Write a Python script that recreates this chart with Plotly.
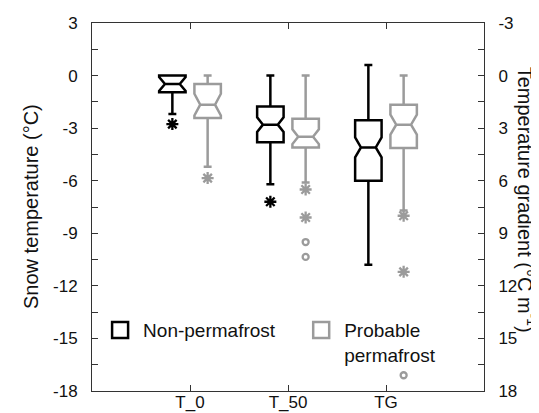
import plotly.graph_objects as go

categories = ["T_0", "T_50", "TG"]
# T_0, T_50 in °C (left axis); TG in °C m-1 (right, reversed axis)
np_lowerfence = [-2.2, -6.2, -0.6]
np_q1 = [-0.95, -3.8, 2.55]
np_median = [-0.48, -2.8, 4.1]
np_q3 = [0.0, -1.77, 6.0]
np_upperfence = [0.0, 0.0, 10.8]
np_notch = [0.4, 0.42, 0.57]

pp_lowerfence = [-5.2, -6.1, 0.0]
pp_q1 = [-2.42, -4.1, 1.66]
pp_median = [-1.66, -3.49, 2.8]
pp_q3 = [-0.48, -2.46, 4.13]
pp_upperfence = [0.0, 0.0, 7.7]
pp_notch = [0.62, 0.42, 0.57]

np_stars = [[-2.77], [-7.2], []]
pp_stars = [[-5.85], [-6.5, -8.1], [8.0, 11.2]]
pp_circles = [[], [-9.5, -10.35], [17.1]]

left_ticks = [3, 0, -3, -6, -9, -12, -15, -18]
right_ticks = [-3, 0, 3, 6, 9, 12, 15, 18]

BLACK = "#000000"
GRAY = "#9b9b9b"
AXC = "#333333"
FONT = "Liberation Sans, Arial, sans-serif"
OFF = 0.18

fig = go.Figure()

groups = [
    ("np", -OFF, BLACK, np_lowerfence, np_q1, np_median, np_q3, np_upperfence, np_notch),
    ("pp", OFF, GRAY, pp_lowerfence, pp_q1, pp_median, pp_q3, pp_upperfence, pp_notch),
]

for name, off, col, lf, q1, med, q3, uf, nt in groups:
    for i, cat in enumerate(categories):
        ax = "y2" if cat == "TG" else "y"
        fig.add_trace(go.Box(
            x=[i + 1 + off], lowerfence=[lf[i]], q1=[q1[i]], median=[med[i]],
            q3=[q3[i]], upperfence=[uf[i]], notched=True, notchspan=[nt[i]],
            notchwidth=0.22, width=0.27, whiskerwidth=0.3,
            line=dict(color=col, width=2.5), fillcolor="rgba(0,0,0,0)",
            boxpoints=False, showlegend=False, yaxis=ax, hoverinfo="skip",
        ))

def add_points(lists, off, col, symbol, size):
    for i, cat in enumerate(categories):
        vals = lists[i]
        if not vals:
            continue
        ax = "y2" if cat == "TG" else "y"
        fig.add_trace(go.Scatter(
            x=[i + 1 + off] * len(vals), y=vals, mode="markers", yaxis=ax,
            marker=dict(symbol=symbol, size=size, color=col,
                        line=dict(color=col, width=2.3)),
            showlegend=False, hoverinfo="skip",
        ))

add_points(np_stars, -OFF, BLACK, "asterisk-open", 10)
add_points(pp_stars, OFF, GRAY, "asterisk-open", 10)
add_points(pp_circles, OFF, GRAY, "circle-open", 6)

# legend entries
fig.add_trace(go.Scatter(x=[None], y=[None], mode="markers", name="Non-permafrost",
                         legend="legend",
                         marker=dict(symbol="square-open", size=16, color=BLACK,
                                     line=dict(color=BLACK, width=2.5))))
fig.add_trace(go.Scatter(x=[None], y=[None], mode="markers", name="Probable<br>permafrost",
                         legend="legend2",
                         marker=dict(symbol="square-open", size=16, color=GRAY,
                                     line=dict(color=GRAY, width=2.5))))

yax = dict(showline=True, linecolor=AXC, linewidth=1, ticks="inside", ticklen=6,
           tickcolor=AXC, tickwidth=1, showgrid=False, zeroline=False,
           tickfont=dict(size=17, color="#111"), ticklabelstandoff=10,
           minor=dict(ticks="inside", dtick=1.5, tick0=0, ticklen=6, tickcolor=AXC, tickwidth=1),
           automargin=False)

leg = dict(xanchor="left", yanchor="top", valign="top", itemwidth=36,
           font=dict(size=19, color="#111"), bgcolor="rgba(0,0,0,0)")

fig.update_layout(
    width=539, height=413,
    margin=dict(l=84, r=63, t=15, b=30),
    paper_bgcolor="white", plot_bgcolor="white",
    font=dict(family=FONT, color="#111"),
    boxmode="overlay",
    xaxis=dict(range=[0, 4], tickvals=[1, 2, 3], ticktext=categories,
               showline=True, linecolor=AXC, linewidth=1, mirror="ticks",
               ticks="inside", ticklen=6, tickcolor=AXC, showgrid=False,
               zeroline=False, tickfont=dict(size=17, color="#111"),
               ticklabelstandoff=-4, automargin=False),
    yaxis=dict(range=[-18, 3], tickvals=left_ticks,
               ticktext=[str(v) for v in left_ticks], **yax),
    yaxis2=dict(range=[18, -3], overlaying="y", side="right", tickvals=right_ticks,
                ticktext=[str(v) for v in right_ticks], **yax),
    legend=dict(x=0.013, y=0.217, **leg),
    legend2=dict(x=0.526, y=0.217, **leg),
    annotations=[
        dict(text="Snow temperature (°C)", xref="paper", yref="paper",
             x=(23 - 84) / 392, y=0.5, textangle=-90, showarrow=False,
             font=dict(size=20, color="#111"), xanchor="center", yanchor="middle"),
        dict(text="Temperature gradient (°C m<sup>-1</sup>)", xref="paper", yref="paper",
             x=(519 - 84) / 392, y=0.52, textangle=90, showarrow=False,
             font=dict(size=20, color="#111"), xanchor="center", yanchor="middle"),
    ],
)

fig.write_html("out.html")
